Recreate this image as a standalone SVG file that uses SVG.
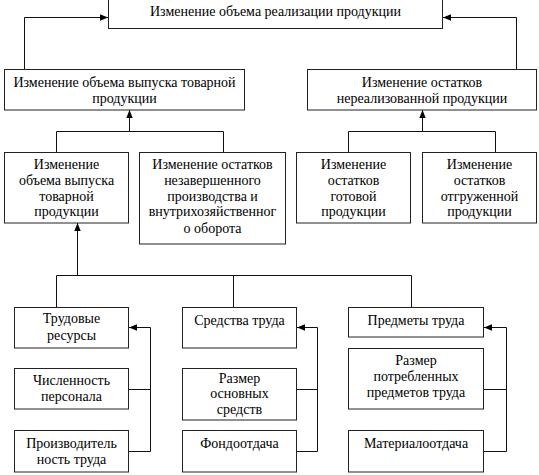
<svg xmlns="http://www.w3.org/2000/svg" width="539" height="475" viewBox="0 0 539 475">
<defs>
<style>
.box{fill:#fff;stroke:#222;stroke-width:1}
.t text{font-size:14px;fill:#000;text-anchor:middle}
.c{fill:none;stroke:#111;stroke-width:1}
.a{fill:none;stroke:#111;stroke-width:1;marker-end:url(#ah)}
</style>
<marker id="ah" viewBox="0 0 8 8" refX="8" refY="4" markerWidth="8" markerHeight="8" markerUnits="userSpaceOnUse" orient="auto">
<path d="M0,0.8 L8,4 L0,7.2 Z" fill="#000"/>
</marker>
</defs>
<rect width="539" height="475" fill="#fff"/>
<g id="connectors">
<path class="a" d="M24.5,69 V17.5 H108"/>
<path class="a" d="M516.5,69 V17.5 H443"/>
<path class="c" d="M56.5,152 V131.5 H223.5 V152"/>
<path class="a" d="M129.5,131.5 V110"/>
<path class="c" d="M348.5,152 V131.5 H495.5 V152"/>
<path class="a" d="M422.5,131.5 V110"/>
<path class="a" d="M77.5,275.5 V223"/>
<path class="c" d="M56.5,307 V275.5 H411.5 V307"/>
<path class="c" d="M233.5,275.5 V307"/>
<path class="c" d="M129,389.5 H150.5"/>
<path class="a" d="M129,451.5 H150.5 V327.5 H129"/>
<path class="c" d="M297,389.5 H317.5"/>
<path class="a" d="M297,451.5 H317.5 V327.5 H297"/>
<path class="c" d="M484,389.5 H506.5"/>
<path class="a" d="M484,451.5 H506.5 V327.5 H484"/>
</g>
<g class="t" font-family="Liberation Serif, Times New Roman, serif">
<g id="n-top"><rect class="box" x="108.5" y="-1" width="334" height="29.5"/><text x="275.5" y="16">Изменение объема реализации продукции</text></g>
<g id="n-vypusk"><rect class="box" x="4.5" y="69.5" width="240" height="40.5"/><text x="124.5" y="87">Изменение объема выпуска товарной</text><text x="124.5" y="103">продукции</text></g>
<g id="n-ostatki"><rect class="box" x="307.5" y="69.5" width="229" height="40.5"/><text x="422" y="87">Изменение остатков</text><text x="422" y="103">нереализованной продукции</text></g>
<g id="n-a"><rect class="box" x="4.5" y="152.5" width="124" height="70.5"/><text x="66.5" y="169">Изменение</text><text x="66.5" y="185">объема выпуска</text><text x="66.5" y="201">товарной</text><text x="66.5" y="216">продукции</text></g>
<g id="n-b"><rect class="box" x="139.5" y="152.5" width="146" height="91.5"/><text x="212.5" y="169">Изменение остатков</text><text x="212.5" y="185">незавершенного</text><text x="212.5" y="201">производства и</text><text x="212.5" y="216">внутрихозяйственног</text><text x="212.5" y="233">о оборота</text></g>
<g id="n-c"><rect class="box" x="296.5" y="152.5" width="114" height="70.5"/><text x="353.5" y="169">Изменение</text><text x="353.5" y="185">остатков</text><text x="353.5" y="201">готовой</text><text x="353.5" y="216">продукции</text></g>
<g id="n-d"><rect class="box" x="422.5" y="152.5" width="114" height="70.5"/><text x="479.5" y="169">Изменение</text><text x="479.5" y="185">остатков</text><text x="479.5" y="201">отгруженной</text><text x="479.5" y="216">продукции</text></g>
<g id="n-trud"><rect class="box" x="14.5" y="307.5" width="114" height="40.5"/><text x="71.5" y="323">Трудовые</text><text x="71.5" y="340">ресурсы</text></g>
<g id="n-chisl"><rect class="box" x="14.5" y="368.5" width="114" height="40.5"/><text x="71.5" y="385">Численность</text><text x="71.5" y="401">персонала</text></g>
<g id="n-proizv"><rect class="box" x="14.5" y="430.5" width="114" height="41.5"/><text x="71.5" y="448">Производитель</text><text x="71.5" y="464">ность труда</text></g>
<g id="n-sredstva"><rect class="box" x="182.5" y="307.5" width="114" height="40.5"/><text x="239.5" y="325">Средства труда</text></g>
<g id="n-razmer-os"><rect class="box" x="182.5" y="368.5" width="114" height="51.5"/><text x="239.5" y="383">Размер</text><text x="239.5" y="398">основных</text><text x="239.5" y="414">средств</text></g>
<g id="n-fondo"><rect class="box" x="182.5" y="430.5" width="114" height="41.5"/><text x="239.5" y="448">Фондоотдача</text></g>
<g id="n-predmety"><rect class="box" x="348.5" y="307.5" width="135" height="29.5"/><text x="416" y="325">Предметы труда</text></g>
<g id="n-razmer-pr"><rect class="box" x="348.5" y="348.5" width="135" height="60.5"/><text x="416" y="365">Размер</text><text x="416" y="381">потребленных</text><text x="416" y="397">предметов труда</text></g>
<g id="n-materialo"><rect class="box" x="348.5" y="430.5" width="135" height="41.5"/><text x="416" y="448">Материалоотдача</text></g>
</g>
</svg>
